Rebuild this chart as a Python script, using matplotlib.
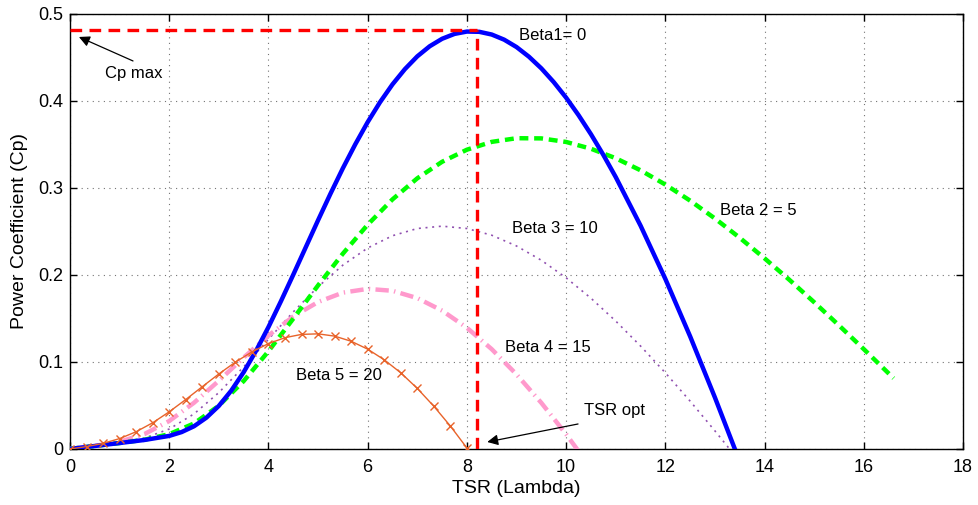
import matplotlib
matplotlib.use("Agg")
import matplotlib.pyplot as plt

plt.rcParams['font.family'] = ['Liberation Sans', 'DejaVu Sans']

# ---- data ----
lam_blue = [0, 0.5, 1, 1.5, 2, 2.25, 2.5, 2.75, 3, 3.25, 3.5, 3.75, 4, 4.25,
            4.5, 4.75, 5, 5.25, 5.5, 5.75, 6, 6.25, 6.5, 6.75, 7, 7.25, 7.5,
            7.75, 8, 8.25, 8.5, 8.75, 9, 9.25, 9.5, 9.75, 10, 10.25, 10.5,
            10.75, 11, 11.5, 12, 12.5, 13, 13.5]
cp_b0 = [0, 0.0034, 0.0068, 0.0103, 0.0150, 0.0194, 0.0261, 0.0360, 0.0495,
         0.0670, 0.0882, 0.1128, 0.1401, 0.1696, 0.2003, 0.2316, 0.2629,
         0.2934, 0.3227, 0.3502, 0.3757, 0.3987, 0.4191, 0.4366, 0.4513,
         0.4629, 0.4715, 0.4771, 0.4798, 0.4795, 0.4764, 0.4705, 0.4620,
         0.4509, 0.4375, 0.4217, 0.4038, 0.3837, 0.3618, 0.3380, 0.3125,
         0.2567, 0.1954, 0.1293, 0.0590, -0.0147]

lam_a = [0, 0.5, 1, 1.5, 2, 2.5, 3, 3.5, 4, 4.5, 5, 5.5, 6, 6.5, 7, 7.5, 8,
         8.5, 9, 9.5, 10, 10.5, 11, 11.5, 12, 12.5, 13, 13.5, 14, 14.5, 15,
         15.5, 16, 16.6]

cp_b5 = [0, 0.0034, 0.0068, 0.0106, 0.0170, 0.0293, 0.0497, 0.0780, 0.1123,
         0.1498, 0.1880, 0.2245, 0.2578, 0.2869, 0.3111, 0.3301, 0.3440,
         0.3530, 0.3572, 0.3570, 0.3529, 0.3451, 0.3342, 0.3203, 0.3039,
         0.2854, 0.2649, 0.2427, 0.2191, 0.1944, 0.1686, 0.1420, 0.1147,
         0.0813]

cp_b10 = [0, 0.0034, 0.0070, 0.0125, 0.0229, 0.0403, 0.0648, 0.0943, 0.1261,
          0.1575, 0.1864, 0.2113, 0.2310, 0.2451, 0.2534, 0.2561, 0.2534,
          0.2457, 0.2333, 0.2169, 0.1967, 0.1733, 0.1470, 0.1183, 0.0875,
          0.0549, 0.0207, -0.0146]

cp_b15 = [0, 0.0035, 0.0083, 0.0171, 0.0321, 0.0531, 0.0784, 0.1050, 0.1304,
          0.1522, 0.1689, 0.1797, 0.1840, 0.1818, 0.1734, 0.1590, 0.1393,
          0.1147, 0.0857, 0.0530, 0.0169, -0.0221]

lam_b = [0, 0.333, 0.667, 1, 1.333, 1.667, 2, 2.333, 2.667, 3, 3.333, 3.667,
         4, 4.333, 4.667, 5, 5.333, 5.667, 6, 6.333, 6.667, 7, 7.333, 7.667, 8]
cp_b20 = [0, 0.0027, 0.0064, 0.0119, 0.0198, 0.0301, 0.0427, 0.0568, 0.0716,
          0.0862, 0.0998, 0.1116, 0.1211, 0.1279, 0.1317, 0.1323, 0.1297,
          0.1238, 0.1147, 0.1025, 0.0875, 0.0696, 0.0491, 0.0263, 0.0011]

tsr_opt = 8.2
cp_max = 0.482

x_ticks = [0, 2, 4, 6, 8, 10, 12, 14, 16, 18]
y_ticks = [0, 0.1, 0.2, 0.3, 0.4, 0.5]
y_tick_labels = ['0', '0.1', '0.2', '0.3', '0.4', '0.5']

# ---- figure ----
fig = plt.figure(figsize=(9.79, 5.05), dpi=100)
ax = fig.add_axes([0.0715, 0.111, 0.9122, 0.8613])

ax.plot(lam_blue, cp_b0, color='#0000ff', lw=3.2, solid_capstyle='butt',
        solid_joinstyle='round', zorder=5)
ax.plot(lam_a[:len(cp_b5)], cp_b5, color='#00ff00', lw=3.2, dashes=(2.0, 1.3), zorder=4)
ax.plot(lam_a[:len(cp_b10)], cp_b10, color='#9050b0', lw=1.2, dashes=(1.2, 2.8), zorder=3)
ax.plot(lam_a[:len(cp_b15)], cp_b15, color='#ff99cc', lw=3.2, dashes=(3.0, 1.2, 0.3, 1.2), zorder=3)
ax.plot(lam_b, cp_b20, color='#e8632a', lw=1.0, marker='x', ms=6, mew=1.0, zorder=6)

# optimum lines
ax.plot([0, tsr_opt], [cp_max, cp_max], color='#ff0000', lw=2.4, dashes=(3.5, 2.2), zorder=7)
ax.plot([tsr_opt, tsr_opt], [0, cp_max], color='#ff0000', lw=2.4, dashes=(3.5, 2.2), zorder=7)

ax.set_xlim(0, 18)
ax.set_ylim(0, 0.5)
ax.set_xticks(x_ticks)
ax.set_yticks(y_ticks)
ax.set_yticklabels(y_tick_labels)
ax.tick_params(direction='in', length=5, width=1, top=True, right=True, labelsize=13)
ax.tick_params(axis='x', pad=7)
ax.tick_params(axis='y', pad=5)
for s in ax.spines.values():
    s.set_linewidth(1.0)
ax.grid(True, color='0.45', lw=0.8, linestyle=(0, (1, 4)))
ax.set_axisbelow(True)

ax.set_xlabel('TSR (Lambda)', fontsize=14, labelpad=3)
ax.set_ylabel('Power Coefficient (Cp)', fontsize=14, labelpad=7)

fs = 12
ax.text(9.05, 0.475, 'Beta1= 0', fontsize=fs, va='center', ha='left', zorder=8)
ax.text(13.1, 0.2736, 'Beta 2 = 5', fontsize=fs, va='center', ha='left', zorder=8)
ax.text(8.91, 0.253, 'Beta 3 = 10', fontsize=fs, va='center', ha='left', zorder=8)
ax.text(8.77, 0.117, 'Beta 4 = 15', fontsize=fs, va='center', ha='left', zorder=8)
ax.text(4.56, 0.085, 'Beta 5 = 20', fontsize=fs, va='center', ha='left', zorder=8)

ax.annotate('', xy=(0.18, 0.4736), xytext=(1.27, 0.446),
            arrowprops=dict(arrowstyle='-|>', color='black', lw=0.9,
                            mutation_scale=16, shrinkA=0, shrinkB=0), zorder=8)
ax.text(1.29, 0.432, 'Cp max', fontsize=fs, va='center', ha='center', zorder=8)

ax.annotate('', xy=(8.41, 0.008), xytext=(10.24, 0.0287),
            arrowprops=dict(arrowstyle='-|>', color='black', lw=0.9,
                            mutation_scale=16, shrinkA=0, shrinkB=0), zorder=8)
ax.text(10.37, 0.0437, 'TSR opt', fontsize=fs, va='center', ha='left', zorder=8)

fig.savefig('out.png', dpi=100)
